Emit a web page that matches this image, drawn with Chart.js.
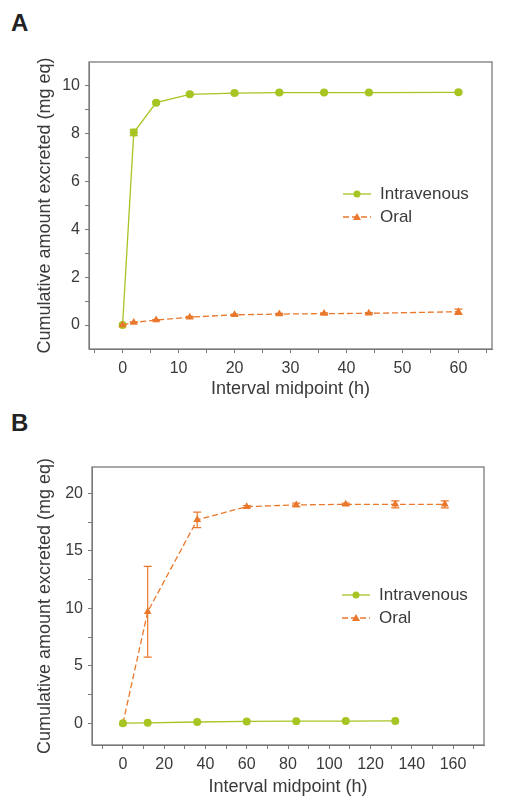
<!DOCTYPE html>
<html>
<head>
<meta charset="utf-8">
<title>Cumulative amount excreted</title>
<script src="https://cdn.jsdelivr.net/npm/chart.js@4.4.1/dist/chart.umd.min.js"></script>
<style>
  body { margin: 0; background: #fff; width: 505px; height: 811px; position: relative; overflow: hidden; }
  .panel { position: absolute; left: 0; }
  .letter { position: absolute; left: 11px; font: bold 24px "Liberation Sans", Arial, sans-serif; color: #222; }
</style>
</head>
<body>
<div class="letter" style="top: 9px;">A</div>
<div class="panel" style="top: 0;"><canvas id="chartA" width="505" height="400"></canvas></div>
<div class="letter" style="top: 409px;">B</div>
<div class="panel" style="top: 400px;"><canvas id="chartB" width="505" height="411"></canvas></div>
<script>
// Panel A data
const hoursA = [0, 2, 6, 12, 20, 28, 36, 44, 60];
const ivA = [0, 8.05, 9.3, 9.65, 9.7, 9.72, 9.72, 9.72, 9.73];
const ivErrA = [0, 0.13, 0.05, 0.05, 0.03, 0.03, 0.03, 0.03, 0.03];
const oralA = [0, 0.11, 0.21, 0.33, 0.43, 0.46, 0.48, 0.49, 0.56];
const oralErrA = [0, 0.02, 0.02, 0.03, 0.03, 0.03, 0.03, 0.03, 0.11];

// Panel B data
const hoursIvB = [0, 12, 36, 60, 84, 108, 132];
const ivB = [0, 0.03, 0.1, 0.15, 0.17, 0.18, 0.2];
const hoursOralB = [0, 12, 36, 60, 84, 108, 132, 156];
const oralB = [0, 9.7, 17.7, 18.85, 19.0, 19.05, 19.05, 19.05];
const oralErrB = [0, 3.95, 0.68, 0.1, 0.15, 0.1, 0.3, 0.3];

// Axis ticks (major labelled, minor unlabelled)
const ticksXA = [-5, 0, 5, 10, 15, 20, 25, 30, 35, 40, 45, 50, 55, 60, 65];
const labelsXA = [0, 10, 20, 30, 40, 50, 60];
const ticksYA = [0, 1, 2, 3, 4, 5, 6, 7, 8, 9, 10];
const labelsYA = [0, 2, 4, 6, 8, 10];
const ticksXB = [-10, 0, 10, 20, 30, 40, 50, 60, 70, 80, 90, 100, 110, 120, 130, 140, 150, 160, 170];
const labelsXB = [0, 20, 40, 60, 80, 100, 120, 140, 160];
const ticksYB = [0, 2.5, 5, 7.5, 10, 12.5, 15, 17.5, 20];
const labelsYB = [0, 5, 10, 15, 20];

const seriesNames = ['Intravenous', 'Oral'];

const GREEN = '#a6c523';
const ORANGE = '#ea782c';
const AXIS = '#7a7a7a';
const TEXT = '#3a3a3a';
const FONT = '"Liberation Sans", Arial, sans-serif';

function toPoints(xs, ys) {
    return xs.map((x, i) => ({ x: x, y: ys[i] }));
}

// error bars drawn from dataset.errors through the chart scales
const errorBars = {
    id: 'errorBars',
    beforeDatasetsDraw(chart) {
        const ctx = chart.ctx;
        const xs = chart.scales.x, ys = chart.scales.y;
        chart.data.datasets.forEach(ds => {
            if (!ds.errors) return;
            ctx.save();
            ctx.strokeStyle = ds.borderColor;
            ctx.lineWidth = 1.2;
            ds.data.forEach((p, i) => {
                const e = ds.errors[i];
                if (!e) return;
                const px = xs.getPixelForValue(p.x);
                const top = ys.getPixelForValue(p.y + e);
                const bot = ys.getPixelForValue(p.y - e);
                ctx.beginPath();
                ctx.moveTo(px, top); ctx.lineTo(px, bot);
                ctx.moveTo(px - 4, top); ctx.lineTo(px + 4, top);
                ctx.moveTo(px - 4, bot); ctx.lineTo(px + 4, bot);
                ctx.stroke();
            });
            ctx.restore();
        });
    }
};

// full box around the plot area
const frame = {
    id: 'frame',
    afterDraw(chart) {
        const a = chart.chartArea, ctx = chart.ctx;
        ctx.save();
        ctx.strokeStyle = AXIS;
        ctx.lineWidth = 1.3;
        ctx.strokeRect(a.left, a.top, a.right - a.left, a.bottom - a.top);
        ctx.restore();
    }
};

// legend inside the plot
const insideLegend = {
    id: 'insideLegend',
    afterDraw(chart, args, opts) {
        const ctx = chart.ctx, a = chart.chartArea;
        const x0 = a.left + opts.dx, y0 = a.top + opts.dy;
        ctx.save();
        chart.data.datasets.forEach((ds, i) => {
            const y = y0 + i * 23;
            ctx.strokeStyle = ds.borderColor;
            ctx.lineWidth = 1.3;
            ctx.setLineDash(ds.borderDash || []);
            ctx.beginPath();
            ctx.moveTo(x0, y); ctx.lineTo(x0 + 28, y);
            ctx.stroke();
            ctx.setLineDash([]);
            ctx.fillStyle = ds.borderColor;
            ctx.beginPath();
            if (ds.pointStyle === 'triangle') {
                ctx.moveTo(x0 + 14, y - 4); ctx.lineTo(x0 + 18, y + 3); ctx.lineTo(x0 + 10, y + 3);
                ctx.closePath();
            } else {
                ctx.arc(x0 + 14, y, 3.5, 0, Math.PI * 2);
            }
            ctx.fill();
            ctx.fillStyle = TEXT;
            ctx.font = '17px ' + FONT;
            ctx.textBaseline = 'middle';
            ctx.fillText(ds.label, x0 + 37, y);
        });
        ctx.restore();
    }
};

function makeChart(id, cfg) {
    const ctx = document.getElementById(id).getContext('2d');
    return new Chart(ctx, {
        type: 'line',
        data: {
            datasets: [{
                label: seriesNames[0],
                data: cfg.iv,
                errors: cfg.ivErr,
                borderColor: GREEN,
                backgroundColor: GREEN,
                borderWidth: 1.3,
                pointStyle: 'circle',
                pointRadius: 4,
                pointBorderWidth: 0,
                tension: 0,
                order: cfg.ivOrder
            }, {
                label: seriesNames[1],
                data: cfg.oral,
                errors: cfg.oralErr,
                borderColor: ORANGE,
                backgroundColor: ORANGE,
                borderWidth: 1.3,
                borderDash: [6, 3],
                pointStyle: 'triangle',
                pointRadius: 4.5,
                pointBorderWidth: 0,
                tension: 0,
                order: cfg.oralOrder
            }]
        },
        options: {
            responsive: false,
            animation: false,
            layout: { padding: cfg.padding },
            plugins: {
                legend: { display: false },
                tooltip: { enabled: false },
                insideLegend: cfg.legend
            },
            scales: {
                x: {
                    type: 'linear',
                    min: cfg.xMin, max: cfg.xMax,
                    afterFit: s => { s.height = cfg.xHeight; },
                    afterBuildTicks: s => { s.ticks = cfg.xTicks.map(v => ({ value: v })); },
                    ticks: {
                        autoSkip: false, maxRotation: 0, padding: 6,
                        color: TEXT, font: { family: FONT, size: 16 },
                        callback: v => cfg.xLabels.includes(v) ? String(v) : ''
                    },
                    grid: { drawOnChartArea: false, drawTicks: true, tickLength: 4, color: AXIS },
                    border: { display: true, color: AXIS },
                    title: {
                        display: true, text: 'Interval midpoint (h)',
                        color: TEXT, font: { family: FONT, size: 18 }, padding: 0
                    }
                },
                y: {
                    type: 'linear',
                    min: cfg.yMin, max: cfg.yMax,
                    afterFit: s => { s.width = cfg.yWidth; },
                    afterBuildTicks: s => { s.ticks = cfg.yTicks.map(v => ({ value: v })); },
                    ticks: {
                        autoSkip: false, padding: 5,
                        color: TEXT, font: { family: FONT, size: 16 },
                        callback: v => cfg.yLabels.includes(v) ? String(v) : ''
                    },
                    grid: { drawOnChartArea: false, drawTicks: true, tickLength: 4, color: AXIS },
                    border: { display: true, color: AXIS },
                    title: {
                        display: true, text: 'Cumulative amount excreted (mg eq)',
                        color: TEXT, font: { family: FONT, size: 18 }, padding: 0
                    }
                }
            }
        },
        plugins: [errorBars, frame, insideLegend]
    });
}

makeChart('chartA', {
    iv: toPoints(hoursA, ivA), ivErr: ivErrA,
    oral: toPoints(hoursA, oralA), oralErr: oralErrA,
    ivOrder: 1, oralOrder: 0,
    xMin: -6, xMax: 66, yMin: -1, yMax: 11,
    xTicks: ticksXA, xLabels: labelsXA, yTicks: ticksYA, yLabels: labelsYA,
    padding: { top: 62, right: 13, left: 34, bottom: 0 },
    xHeight: 51, yWidth: 55,
    legend: { dx: 254, dy: 132 }
});

makeChart('chartB', {
    iv: toPoints(hoursIvB, ivB), ivErr: null,
    oral: toPoints(hoursOralB, oralB), oralErr: oralErrB,
    ivOrder: 0, oralOrder: 1,
    xMin: -15, xMax: 175, yMin: -1.9, yMax: 22.3,
    xTicks: ticksXB, xLabels: labelsXB, yTicks: ticksYB, yLabels: labelsYB,
    padding: { top: 67, right: 21, left: 34, bottom: 13 },
    xHeight: 53, yWidth: 58,
    legend: { dx: 250, dy: 128 }
});
</script>
</body>
</html>
